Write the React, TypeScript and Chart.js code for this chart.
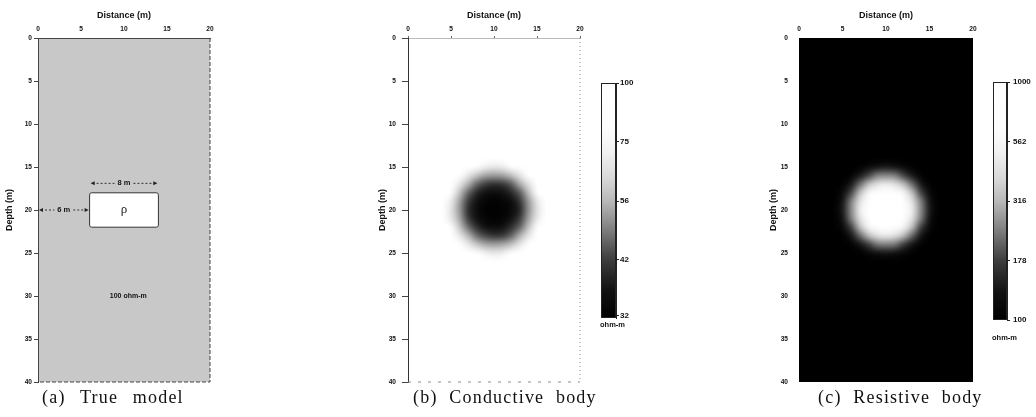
import React, { useEffect, useRef } from "react";
import { Chart, registerables } from "chart.js";

Chart.register(...registerables);

// ---------------- data ----------------
const distanceTicks = [0, 5, 10, 15, 20];
const depthTicks = [0, 5, 10, 15, 20, 25, 30, 35, 40];
const distanceLimits = [0, 20];
const depthLimits = [0, 40];

// (a) true model
const bodyX = [6, 14];
const bodyDepth = [18, 22];
const bodyWidthLabel = "8 m";
const bodyOffsetLabel = "6 m";
const bodySymbol = "ρ";
const hostLabel = "100 ohm-m";
const hostLabelAt = [10.5, 30];
const widthDimensionDepth = 16.9;
const offsetDimensionDepth = 20;

// (b), (c) inverted sections: 1 m cells centred on these coordinates
const gridX = [4, 5, 6, 7, 8, 9, 10, 11, 12, 13, 14, 15, 16];
const gridDepth = [14, 15, 16, 17, 18, 19, 20, 21, 22, 23, 24, 25, 26];
const sectionBackground = 100;

const conductiveRows = [
  [100, 100, 100, 100, 100, 100, 100, 100, 100, 100, 100, 100, 100],
  [100, 100, 100, 97, 82, 70, 67, 69, 80, 96, 100, 100, 100],
  [100, 100, 96, 67, 58, 53, 52, 53, 57, 66, 94, 100, 100],
  [100, 98, 67, 55, 46, 42, 40, 41, 45, 54, 65, 97, 100],
  [100, 82, 58, 46, 39, 36, 35, 36, 39, 45, 57, 80, 100],
  [100, 69, 53, 42, 36, 33, 32, 33, 35, 41, 52, 67, 100],
  [100, 66, 52, 40, 35, 32, 32, 32, 34, 39, 51, 65, 100],
  [100, 68, 54, 42, 36, 33, 32, 33, 36, 42, 53, 68, 100],
  [100, 81, 59, 47, 40, 36, 35, 36, 40, 46, 58, 82, 100],
  [100, 98, 68, 56, 47, 43, 41, 42, 46, 55, 67, 98, 100],
  [100, 100, 96, 68, 59, 54, 53, 54, 58, 67, 95, 100, 100],
  [100, 100, 100, 98, 83, 71, 68, 70, 82, 97, 100, 100, 100],
  [100, 100, 100, 100, 100, 100, 100, 100, 100, 100, 100, 100, 100],
];

const resistiveRows = [
  [100, 100, 100, 100, 100, 100, 100, 100, 100, 100, 100, 100, 100],
  [100, 100, 100, 103, 118, 135, 140, 135, 118, 103, 100, 100, 100],
  [100, 100, 105, 140, 185, 240, 250, 240, 185, 140, 105, 100, 100],
  [100, 103, 140, 220, 330, 430, 480, 430, 330, 220, 140, 103, 100],
  [100, 118, 185, 330, 560, 760, 820, 760, 560, 330, 185, 118, 100],
  [100, 135, 240, 430, 760, 940, 980, 940, 760, 430, 240, 135, 100],
  [100, 140, 250, 480, 820, 980, 1000, 980, 820, 480, 250, 140, 100],
  [100, 133, 236, 425, 750, 930, 970, 930, 750, 425, 236, 133, 100],
  [100, 116, 180, 322, 545, 740, 800, 740, 545, 322, 180, 116, 100],
  [100, 102, 136, 212, 318, 415, 460, 415, 318, 212, 136, 102, 100],
  [100, 100, 104, 135, 178, 228, 238, 228, 178, 135, 104, 100, 100],
  [100, 100, 100, 102, 115, 130, 135, 130, 115, 102, 100, 100, 100],
  [100, 100, 100, 100, 100, 100, 100, 100, 100, 100, 100, 100, 100],
];

const conductiveLimits = [31.6, 100];
const conductiveBarTicks = [32, 42, 56, 75, 100];
const resistiveLimits = [100, 1000];
const resistiveBarTicks = [100, 178, 316, 562, 1000];
const unitLabel = "ohm-m";
const captions = ["(a) True model", "(b) Conductive body", "(c) Resistive body"];

// ---------------- style ----------------
const SANS = '"Liberation Sans", Arial, Helvetica, sans-serif';
const SERIF = '"Liberation Serif", "Times New Roman", Times, serif';
const GRAY_STOPS: [number, number][] = [
  [0, 0], [0.12, 18], [0.25, 62], [0.38, 128], [0.5, 185], [0.6, 218], [0.7, 240], [0.8, 252], [1, 255],
];
const HOST_GRAY = "#c8c8c8";

function grayOf(v: number, lim: number[]) {
  const a = Math.log10(lim[0]);
  const b = Math.log10(lim[1]);
  const t = Math.min(1, Math.max(0, (Math.log10(v) - a) / (b - a)));
  for (let i = 1; i < GRAY_STOPS.length; i++) {
    const [t0, g0] = GRAY_STOPS[i - 1];
    const [t1, g1] = GRAY_STOPS[i];
    if (t <= t1) return Math.round(g0 + ((g1 - g0) * (t - t0)) / (t1 - t0));
  }
  return 255;
}
const css = (g: number) => `rgb(${g},${g},${g})`;

function clipArea(chart: any) {
  const { ctx, chartArea: ca } = chart;
  ctx.beginPath();
  ctx.rect(ca.left, ca.top, ca.right - ca.left, ca.bottom - ca.top);
  ctx.clip();
}

function paintSection(chart: any, rows: number[][], lim: number[]) {
  const { ctx, chartArea: ca, scales } = chart;
  const x = scales.x;
  const y = scales.y;
  ctx.save();
  clipArea(chart);
  ctx.fillStyle = css(grayOf(sectionBackground, lim));
  ctx.fillRect(ca.left, ca.top, ca.right - ca.left, ca.bottom - ca.top);
  const off = document.createElement("canvas");
  off.width = gridX.length;
  off.height = gridDepth.length;
  const octx = off.getContext("2d")!;
  const img = octx.createImageData(off.width, off.height);
  rows.forEach((row, j) =>
    row.forEach((v, i) => {
      const g = grayOf(v, lim);
      const k = (j * off.width + i) * 4;
      img.data[k] = g;
      img.data[k + 1] = g;
      img.data[k + 2] = g;
      img.data[k + 3] = 255;
    })
  );
  octx.putImageData(img, 0, 0);
  const x0 = x.getPixelForValue(gridX[0] - 0.5);
  const x1 = x.getPixelForValue(gridX[gridX.length - 1] + 0.5);
  const y0 = y.getPixelForValue(gridDepth[0] - 0.5);
  const y1 = y.getPixelForValue(gridDepth[gridDepth.length - 1] + 0.5);
  ctx.imageSmoothingEnabled = true;
  ctx.imageSmoothingQuality = "high";
  ctx.drawImage(off, x0, y0, x1 - x0, y1 - y0);
  ctx.restore();
}

function paintTrueModel(chart: any) {
  const { ctx, chartArea: ca, scales } = chart;
  const x = scales.x;
  const y = scales.y;
  ctx.save();
  clipArea(chart);
  ctx.fillStyle = HOST_GRAY;
  ctx.fillRect(ca.left, ca.top, ca.right - ca.left, ca.bottom - ca.top);
  const bx0 = x.getPixelForValue(bodyX[0]);
  const bx1 = x.getPixelForValue(bodyX[1]);
  const by0 = y.getPixelForValue(bodyDepth[0]);
  const by1 = y.getPixelForValue(bodyDepth[1]);
  ctx.beginPath();
  (ctx as any).roundRect(bx0, by0, bx1 - bx0, by1 - by0, 2);
  ctx.fillStyle = "#ffffff";
  ctx.fill();
  ctx.strokeStyle = "#333";
  ctx.lineWidth = 1;
  ctx.stroke();
  ctx.restore();
}

function arrowHead(ctx: CanvasRenderingContext2D, x: number, y: number, dir: number) {
  ctx.beginPath();
  ctx.moveTo(x, y);
  ctx.lineTo(x - dir * 4, y - 2);
  ctx.lineTo(x - dir * 4, y + 2);
  ctx.closePath();
  ctx.fill();
}

function dimension(ctx: CanvasRenderingContext2D, xa: number, xb: number, yy: number, label: string, font: string) {
  ctx.font = font;
  const xm = (xa + xb) / 2;
  const half = ctx.measureText(label).width / 2 + 3;
  ctx.strokeStyle = "#333";
  ctx.fillStyle = "#222";
  ctx.lineWidth = 1;
  ctx.setLineDash([2, 2]);
  ctx.beginPath();
  ctx.moveTo(xa + 3, yy);
  ctx.lineTo(xm - half, yy);
  ctx.moveTo(xm + half, yy);
  ctx.lineTo(xb - 3, yy);
  ctx.stroke();
  ctx.setLineDash([]);
  arrowHead(ctx, xa + 1, yy, -1);
  arrowHead(ctx, xb - 1, yy, 1);
  ctx.textAlign = "center";
  ctx.textBaseline = "middle";
  ctx.fillStyle = "#111";
  ctx.fillText(label, xm, yy);
}

function annotateTrueModel(chart: any) {
  const { ctx, chartArea: ca, scales } = chart;
  const x = scales.x;
  const y = scales.y;
  ctx.save();
  const f = `bold 7.5px ${SANS}`;
  dimension(ctx, x.getPixelForValue(bodyX[0]), x.getPixelForValue(bodyX[1]), y.getPixelForValue(widthDimensionDepth), bodyWidthLabel, f);
  dimension(ctx, x.getPixelForValue(distanceLimits[0]), x.getPixelForValue(bodyX[0]), y.getPixelForValue(offsetDimensionDepth), bodyOffsetLabel, f);
  ctx.font = `13px ${SERIF}`;
  ctx.fillStyle = "#222";
  ctx.textAlign = "center";
  ctx.textBaseline = "middle";
  ctx.fillText(bodySymbol, x.getPixelForValue((bodyX[0] + bodyX[1]) / 2), y.getPixelForValue((bodyDepth[0] + bodyDepth[1]) / 2));
  ctx.font = `bold 7px ${SANS}`;
  ctx.fillStyle = "#111";
  ctx.fillText(hostLabel, x.getPixelForValue(hostLabelAt[0]), y.getPixelForValue(hostLabelAt[1]));
  // right & bottom frame
  ctx.strokeStyle = "#444";
  ctx.setLineDash([4, 2]);
  ctx.beginPath();
  ctx.moveTo(ca.right, ca.top);
  ctx.lineTo(ca.right, ca.bottom);
  ctx.lineTo(ca.left, ca.bottom);
  ctx.stroke();
  ctx.restore();
}

function frameConductive(chart: any) {
  const { ctx, chartArea: ca } = chart;
  ctx.save();
  ctx.strokeStyle = "#8a8a8a";
  ctx.lineWidth = 1;
  ctx.setLineDash([1, 3]);
  ctx.beginPath();
  ctx.moveTo(ca.right, ca.top);
  ctx.lineTo(ca.right, ca.bottom);
  ctx.stroke();
  ctx.setLineDash([3, 7]);
  ctx.beginPath();
  ctx.moveTo(ca.left, ca.bottom);
  ctx.lineTo(ca.right, ca.bottom);
  ctx.stroke();
  ctx.restore();
}

type PanelOpts = {
  yAxisWidth: number;
  yTickLen: number;
  yTickPad: number;
  xTickLen: number;
  xTickPad: number;
  xBorder: any;
  yBorder: any;
  under: (c: any) => void;
  over?: (c: any) => void;
};

function mainConfig(p: PanelOpts): any {
  const tickFont = { family: SANS, size: 6.6, weight: "bold" as const };
  const titleFont = { family: SANS, size: 9, weight: "bold" as const };
  return {
    type: "scatter",
    data: { datasets: [] },
    options: {
      animation: false,
      responsive: false,
      events: [],
      layout: { padding: { left: 0, top: 0, right: 12, bottom: 8 } },
      plugins: { legend: { display: false }, tooltip: { enabled: false } },
      scales: {
        x: {
          type: "linear",
          position: "top",
          min: distanceLimits[0],
          max: distanceLimits[1],
          afterBuildTicks: (s: any) => {
            s.ticks = distanceTicks.map((v) => ({ value: v }));
          },
          ticks: { font: tickFont, color: "#111", padding: p.xTickPad, maxRotation: 0, autoSkip: false, callback: (v: any) => String(v) },
          grid: { display: p.xTickLen > 0, drawOnChartArea: false, drawTicks: true, tickLength: p.xTickLen, color: "#666" },
          border: p.xBorder,
          title: { display: true, text: "Distance (m)", font: titleFont, color: "#111", padding: { top: 10, bottom: 0 } },
          afterFit: (s: any) => {
            s.height = 38;
            s.paddingLeft = 0;
            s.paddingRight = 0;
          },
        },
        y: {
          type: "linear",
          position: "left",
          reverse: true,
          min: depthLimits[0],
          max: depthLimits[1],
          afterBuildTicks: (s: any) => {
            s.ticks = depthTicks.map((v) => ({ value: v }));
          },
          ticks: { font: tickFont, color: "#111", padding: p.yTickPad, autoSkip: false, callback: (v: any) => String(v) },
          grid: { display: p.yTickLen > 0, drawOnChartArea: false, drawTicks: true, tickLength: p.yTickLen, color: "#444" },
          border: p.yBorder,
          title: { display: true, text: "Depth (m)", font: titleFont, color: "#111", padding: { top: 4, bottom: 0 } },
          afterFit: (s: any) => {
            s.width = p.yAxisWidth;
            s.paddingTop = 0;
            s.paddingBottom = 0;
          },
        },
      },
    },
    plugins: [
      {
        id: "panelPaint",
        beforeDraw: (c: any) => p.under(c),
        afterDraw: (c: any) => p.over && p.over(c),
      },
    ],
  };
}

function barConfig(lim: number[], ticks: number[], labelPad: number): any {
  return {
    type: "scatter",
    data: { datasets: [] },
    options: {
      animation: false,
      responsive: false,
      events: [],
      layout: { padding: { left: 2, top: 5, right: 0, bottom: 5 } },
      plugins: { legend: { display: false }, tooltip: { enabled: false } },
      scales: {
        x: { display: false, min: 0, max: 1 },
        y: {
          type: "logarithmic",
          position: "right",
          min: lim[0],
          max: lim[1],
          afterBuildTicks: (s: any) => {
            s.ticks = ticks.map((v) => ({ value: v }));
          },
          ticks: { font: { family: SANS, size: 8, weight: "bold" }, color: "#111", padding: labelPad, autoSkip: false, callback: (v: any) => String(v) },
          grid: { display: true, drawOnChartArea: false, drawTicks: true, tickLength: 3, color: "#222" },
          border: { display: true, color: "#222" },
          afterFit: (s: any) => {
            s.width = 28;
            s.paddingTop = 0;
            s.paddingBottom = 0;
          },
        },
      },
    },
    plugins: [
      {
        id: "ramp",
        beforeDraw(chart: any) {
          const { ctx, chartArea: ca, scales } = chart;
          const ys = scales.y;
          ctx.save();
          for (let py = Math.floor(ca.top); py < Math.ceil(ca.bottom); py++) {
            const v = ys.getValueForPixel(py + 0.5);
            ctx.fillStyle = css(grayOf(v, lim));
            ctx.fillRect(ca.left, py, ca.right - ca.left, 1);
          }
          ctx.restore();
        },
        afterDraw(chart: any) {
          const { ctx, chartArea: ca } = chart;
          ctx.save();
          ctx.strokeStyle = "#222";
          ctx.lineWidth = 1;
          ctx.strokeRect(Math.round(ca.left) + 0.5, Math.round(ca.top) + 0.5, Math.round(ca.right - ca.left) - 1, Math.round(ca.bottom - ca.top) - 1);
          ctx.restore();
        },
      },
    ],
  };
}

function ChartBox(props: { left: number; top: number; width: number; height: number; make: () => any }) {
  const ref = useRef<HTMLCanvasElement | null>(null);
  useEffect(() => {
    const chart = new Chart(ref.current as HTMLCanvasElement, props.make());
    return () => chart.destroy();
  }, []);
  return (
    <canvas
      ref={ref}
      width={props.width}
      height={props.height}
      style={{ position: "absolute", left: props.left, top: props.top, width: props.width, height: props.height }}
    />
  );
}

const captionStyle = (left: number, word: number): React.CSSProperties => ({
  position: "absolute",
  left,
  top: 386,
  lineHeight: "22px",
  fontFamily: SERIF,
  fontSize: 18,
  letterSpacing: "1.2px",
  wordSpacing: `${word}px`,
  color: "#111",
  whiteSpace: "nowrap",
});

const unitStyle = (left: number, top: number): React.CSSProperties => ({
  position: "absolute",
  left,
  top,
  fontFamily: SANS,
  fontWeight: "bold",
  fontSize: 7.5,
  lineHeight: "10px",
  color: "#111",
  whiteSpace: "nowrap",
});

export default function App() {
  return (
    <div style={{ position: "absolute", left: 0, top: 0, width: 1036, height: 417, background: "#fff", overflow: "hidden" }}>
      <ChartBox
        left={0}
        top={0}
        width={222}
        height={390}
        make={() =>
          mainConfig({
            yAxisWidth: 38,
            yTickLen: 4,
            yTickPad: 2,
            xTickLen: 0,
            xTickPad: 5,
            xBorder: { display: true, color: "#444", dash: [4, 2] },
            yBorder: { display: true, color: "#444", dash: [4, 2] },
            under: paintTrueModel,
            over: annotateTrueModel,
          })
        }
      />
      <ChartBox
        left={373}
        top={0}
        width={219}
        height={390}
        make={() =>
          mainConfig({
            yAxisWidth: 35,
            yTickLen: 6,
            yTickPad: 6,
            xTickLen: 2,
            xTickPad: 3,
            xBorder: { display: true, color: "#bbb", dash: [2, 8] },
            yBorder: { display: true, color: "#333", dash: [6, 1] },
            under: (c) => paintSection(c, conductiveRows, conductiveLimits),
            over: frameConductive,
          })
        }
      />
      <ChartBox
        left={764}
        top={0}
        width={221}
        height={390}
        make={() =>
          mainConfig({
            yAxisWidth: 35,
            yTickLen: 0,
            yTickPad: 11,
            xTickLen: 0,
            xTickPad: 5,
            xBorder: { display: false },
            yBorder: { display: false },
            under: (c) => paintSection(c, resistiveRows, resistiveLimits),
          })
        }
      />
      <ChartBox left={599} top={78} width={45} height={245} make={() => barConfig(conductiveLimits, conductiveBarTicks, 1)} />
      <ChartBox left={991} top={77} width={44} height={248} make={() => barConfig(resistiveLimits, resistiveBarTicks, 3)} />
      <div style={unitStyle(600, 320)}>{unitLabel}</div>
      <div style={unitStyle(992, 333)}>{unitLabel}</div>
      <div style={captionStyle(42, 9)}>{captions[0]}</div>
      <div style={captionStyle(413, 6)}>{captions[1]}</div>
      <div style={captionStyle(818, 6)}>{captions[2]}</div>
    </div>
  );
}
